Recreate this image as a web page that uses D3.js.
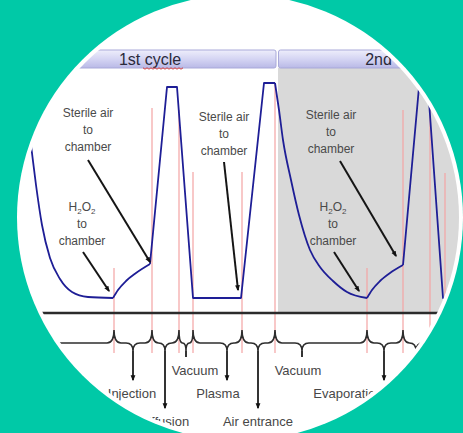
<!DOCTYPE html>
<html><head><meta charset="utf-8">
<script src="https://cdn.jsdelivr.net/npm/d3@7"></script>
<style>html,body{margin:0;padding:0;background:#00c9a7;overflow:hidden}svg{display:block}</style>
</head><body>
<svg id="c" width="463" height="433"></svg>
<script>
// ---------- data (time t in arbitrary units, pressure p in relative units) ----------
const cycles = ["1st cycle", "2nd cycle"];
const cycleStarts = [-80, 257];
const cycleLabelT = [130, 379];
const descent1 = [[5,198],[11,153],[16,113],[22,73],[30,40],[40,19],[52,6],[68,1],[93,0]];
const injection1 = [[93,0],[98,8],[106,17],[116,25],[130,34]];
const cycle1Rest = [[130,34],[147,211],[157,211],[173,0],[221,0],[244,215],[255,215]];
const descent2 = [[255,215],[259,188],[263,158],[271,118],[279,83],[290,48],[300,31],[313,17],[327,6],[347,0]];
const injection2 = [[347,0],[352,8],[360,17],[370,25],[383,33]];
const cycle2Rest = [[383,33],[399,211],[408,211],[423,0],[452,0]];
const eventTimes = [94,132,159,173,222,255,347,383,410,425];
const eventTops  = [30,190,188,126,126,215,30,188,190,125];
const phaseTips   = [113,145,166,207,238,282,364,396,417];
const phaseLabels = ["Injection","Diffusion","Vacuum","Plasma","Air entrance","Vacuum","Evaporation","Diffusion",""];
const labelT      = [112,144,175,198,238,278,328,396,417];
const labelRow    = [1,2,0,1,2,0,1,2,1];
const notes = [
  {lines:["Sterile air","to","chamber"], t:68,  p:185, from:[68,138], to:[130,36]},
  {lines:["H2O2","to","chamber"],        t:62,  p:91,  from:[63,46],  to:[89,7]},
  {lines:["Sterile air","to","chamber"], t:204, p:181, from:[204,136],to:[218,8]},
  {lines:["Sterile air","to","chamber"], t:311, p:183, from:[320,137],to:[376,42]},
  {lines:["H2O2","to","chamber"],        t:313, p:91,  from:[314,46], to:[339,7]},
  {lines:["Sterile air","to","chamber"], t:452, p:183, from:null, to:null}
];

// ---------- layout ----------
const svg = d3.select("#c");
const x = d3.scaleLinear().domain([0,440]).range([20,460]);
const y = d3.scaleLinear().domain([0,215]).range([298,83]);
const CX=240, CY=217.5;
const hdrTop=50, hdrBot=68, axisP=-15, redBottom=353;
const cuspY=330, levelY=343, tipY=351;
const stemEnd=[357,380,408], labelBase=[375,398,426];
const font="'Liberation Sans', Arial, sans-serif";

const defs = svg.append("defs");
defs.append("clipPath").attr("id","clip").append("circle").attr("cx",CX).attr("cy",CY).attr("r",219);
const gr = defs.append("linearGradient").attr("id","hdr").attr("x1",0).attr("y1",0).attr("x2",0).attr("y2",1);
gr.append("stop").attr("offset","0%").attr("stop-color","#eeeefb");
gr.append("stop").attr("offset","55%").attr("stop-color","#d2d2f2");
gr.append("stop").attr("offset","100%").attr("stop-color","#b9b9e6");
defs.append("marker").attr("id","ah").attr("viewBox","0 0 10 10").attr("refX",8).attr("refY",5)
  .attr("markerWidth",6).attr("markerHeight",6).attr("markerUnits","userSpaceOnUse").attr("orient","auto")
  .append("path").attr("d","M0,1L10,5L0,9Z").attr("fill","#111");

svg.append("circle").attr("cx",CX).attr("cy",CY).attr("r",223).attr("fill","#fff");
const g = svg.append("g").attr("clip-path","url(#clip)");

// gray region for 2nd cycle
g.append("rect").attr("x",x(cycleStarts[1])+1).attr("y",hdrBot)
  .attr("width",x(470)-x(cycleStarts[1])).attr("height",y(axisP)-hdrBot).attr("fill","#d9d9d9");

// header bars
cycles.forEach((c,i)=>{
  const x0 = i===0 ? x(cycleStarts[0]) : x(cycleStarts[1])+1.5;
  const x1 = i===0 ? x(cycleStarts[1])-1 : x(480);
  g.append("rect").attr("x",x0).attr("y",hdrTop).attr("width",x1-x0).attr("height",hdrBot-hdrTop)
    .attr("rx",2).attr("fill","url(#hdr)").attr("stroke","#a9a9d9").attr("stroke-width",1);
  g.append("text").attr("x",x(cycleLabelT[i])).attr("y",hdrBot-3).attr("text-anchor","middle")
    .attr("font-family",font).attr("font-size",16).attr("fill","#2a2a3a").text(c);
});
// spell-check squiggle under "cycle"
{
  const xs = d3.range(x(123), x(165), 2);
  g.append("path").attr("d", d3.line()(xs.map((v,i)=>[v, hdrBot+ (i%2? 1.2:-0.2)])))
    .attr("fill","none").attr("stroke","#d23c3c").attr("stroke-width",1);
}

// red event markers
g.selectAll("line.ev").data(eventTimes).join("line").attr("class","ev")
  .attr("x1",d=>x(d)).attr("x2",d=>x(d)).attr("y1",(d,i)=>y(eventTops[i])).attr("y2",redBottom)
  .attr("stroke","#f3a3a3").attr("stroke-width",1.2);

// axis line
g.append("line").attr("x1",x(0)).attr("x2",x(460)).attr("y1",y(axisP)).attr("y2",y(axisP))
  .attr("stroke","#2b2b2b").attr("stroke-width",2.5);

// pressure curve
const smooth = d3.line().x(d=>x(d[0])).y(d=>y(d[1])).curve(d3.curveMonotoneX);
const straight = d3.line().x(d=>x(d[0])).y(d=>y(d[1]));
[[descent1,smooth],[injection1,smooth],[cycle1Rest,straight],[descent2,smooth],[injection2,smooth],[cycle2Rest,straight]]
  .forEach(([pts,ln])=>{
    g.append("path").attr("d",ln(pts)).attr("fill","none").attr("stroke","#1e1e96")
      .attr("stroke-width",1.8).attr("stroke-linejoin","round");
  });

// annotations
notes.forEach(n=>{
  n.lines.forEach((ln,j)=>{
    const t = g.append("text").attr("x",x(n.t)).attr("y",y(n.p)+4+j*17).attr("text-anchor","middle")
      .attr("font-family",font).attr("font-size",12).attr("fill","#4a4a4a");
    if(ln==="H2O2"){
      t.append("tspan").text("H");
      t.append("tspan").attr("font-size",8).attr("dy",3).text("2");
      t.append("tspan").attr("dy",-3).text("O");
      t.append("tspan").attr("font-size",8).attr("dy",3).text("2");
    } else t.text(ln);
  });
  if(n.from){
    g.append("line").attr("x1",x(n.from[0])).attr("y1",y(n.from[1])).attr("x2",x(n.to[0])).attr("y2",y(n.to[1]))
      .attr("stroke","#151515").attr("stroke-width",2).attr("marker-end","url(#ah)");
  }
});

// braces
function brace(a,b,m){
  const r1=Math.min(7,(m-a)/2), r2=Math.min(7,(b-m)/2);
  return `M${a},${cuspY}Q${a},${levelY} ${a+r1},${levelY}L${m-r1},${levelY}Q${m},${levelY} ${m},${tipY}`+
         `Q${m},${levelY} ${m+r2},${levelY}L${b-r2},${levelY}Q${b},${levelY} ${b},${cuspY}`;
}
let bd = `M${x(0)},${levelY}L${x(eventTimes[0])-7},${levelY}Q${x(eventTimes[0])},${levelY} ${x(eventTimes[0])},${cuspY}`;
for(let i=0;i<eventTimes.length-1;i++) bd += brace(x(eventTimes[i]),x(eventTimes[i+1]),x(phaseTips[i]));
const last = x(eventTimes[eventTimes.length-1]);
bd += `M${last},${cuspY}Q${last},${levelY} ${last+7},${levelY}L${x(460)},${levelY}`;
g.append("path").attr("d",bd).attr("fill","none").attr("stroke","#2e2e2e").attr("stroke-width",1.6);

// phase stems + labels
phaseTips.forEach((tp,i)=>{
  const row = labelRow[i];
  g.append("line").attr("x1",x(tp)).attr("x2",x(tp)).attr("y1",tipY).attr("y2",stemEnd[row])
    .attr("stroke","#1e1e1e").attr("stroke-width",1.8).attr("marker-end", row>0 ? "url(#ah)" : null);
  if(phaseLabels[i]) g.append("text").attr("x",x(labelT[i])).attr("y",labelBase[row]).attr("text-anchor","middle")
    .attr("font-family",font).attr("font-size",13).attr("fill","#474747").text(phaseLabels[i]);
});
</script>
</body></html>
